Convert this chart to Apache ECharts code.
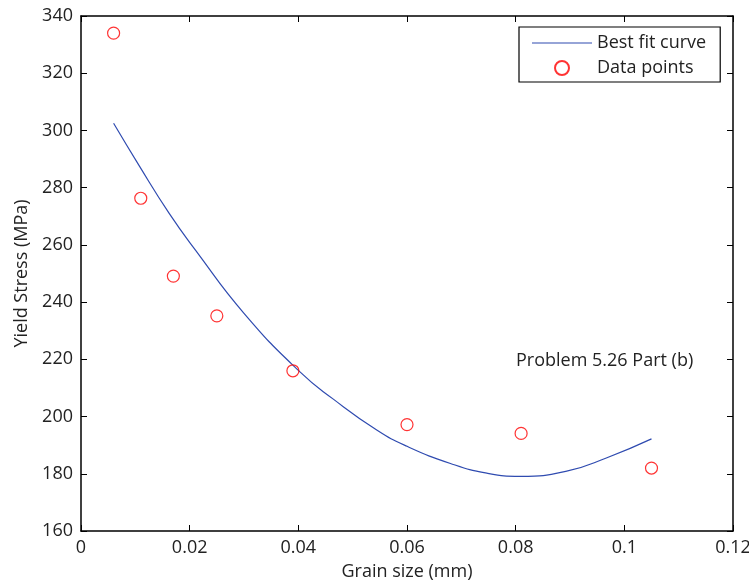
<!DOCTYPE html>
<html>
<head>
<meta charset="utf-8">
<script src="https://cdn.jsdelivr.net/npm/echarts@6/dist/echarts.min.js"></script>
<style>
html,body{margin:0;padding:0;background:#fff;}
#chart{width:749px;height:582px;}
</style>
</head>
<body>
<div id="chart"></div>
<script>
// Data
var grainSize = [0.006, 0.011, 0.017, 0.025, 0.039, 0.060, 0.081, 0.105];
var yieldStress = [334, 276.3, 249.1, 235.2, 216, 197.2, 194.1, 182];

var curveX = [0.006, 0.0107, 0.0162, 0.0211, 0.030, 0.0403, 0.0465, 0.0545, 0.060, 0.068, 0.0747, 0.0809, 0.0894, 0.0968, 0.105];
var curveY = [302.5, 287.7, 271.1, 258.1, 236.1, 215.6, 206, 195.2, 189.6, 183.6, 180.2, 179.1, 180.9, 185.6, 192.2];

var xTicks = { min: 0, max: 0.12, interval: 0.02 };
var yTicks = { min: 160, max: 340, interval: 20 };

var FONT = '"Open Sans", "DejaVu Sans", sans-serif';
var TEXT = '#222222';
var FS = 18;

var chart = echarts.init(document.getElementById('chart'), null, {renderer: 'canvas'});

function pairs(xs, ys) { return xs.map(function (x, i) { return [x, ys[i]]; }); }

function axisCommon(showLabel) {
  return {
    axisLine: { show: true, onZero: false, lineStyle: { color: '#000', width: 1.5 } },
    axisTick: { show: true, inside: true, length: 6, lineStyle: { color: '#000', width: 1 } },
    axisLabel: { show: showLabel, color: TEXT, fontFamily: FONT, fontSize: FS, margin: 8 },
    splitLine: { show: false }
  };
}

var xBottom = Object.assign({
  type: 'value', position: 'bottom', min: xTicks.min, max: xTicks.max, interval: xTicks.interval,
  name: 'Grain size (mm)', nameLocation: 'middle', nameGap: 32,
  nameTextStyle: { color: TEXT, fontFamily: FONT, fontSize: FS }
}, axisCommon(true));
var xTop = Object.assign({
  type: 'value', position: 'top', min: xTicks.min, max: xTicks.max, interval: xTicks.interval
}, axisCommon(false));
var yLeft = Object.assign({
  type: 'value', position: 'left', min: yTicks.min, max: yTicks.max, interval: yTicks.interval,
  name: 'Yield Stress (MPa)', nameLocation: 'middle', nameGap: 49,
  nameTextStyle: { color: TEXT, fontFamily: FONT, fontSize: FS }
}, axisCommon(true));
var yRight = Object.assign({
  type: 'value', position: 'right', min: yTicks.min, max: yTicks.max, interval: yTicks.interval
}, axisCommon(false));

var LINE_COLOR = '#2f4bb0';

chart.setOption({
  animation: false,
  backgroundColor: '#fff',
  grid: {
    left: 81, right: 16, top: 16, bottom: 51, containLabel: false, outerBoundsMode: 'none'
  },
  xAxis: [xBottom, xTop],
  yAxis: [yLeft, yRight],
  legend: {
    left: 519, top: 27, orient: 'vertical',
    backgroundColor: '#fff', borderColor: '#000', borderWidth: 1.2,
    padding: [7, 14, 5, 13],
    itemWidth: 60, itemHeight: 14, itemGap: 7,
    textStyle: { color: TEXT, fontFamily: FONT, fontSize: FS },
    data: [
      { name: 'Best fit curve', icon: 'path://M0,0 L60,0 L60,1.2 L0,1.2 Z' },
      { name: 'Data points' }
    ]
  },
  graphic: [{
    type: 'text', left: 516, top: 352,
    style: { text: 'Problem 5.26 Part (b)', fill: TEXT, font: FS + 'px ' + FONT }
  }],
  series: [
    {
      name: 'Best fit curve', type: 'line', xAxisIndex: 0, yAxisIndex: 0,
      data: pairs(curveX, curveY), smooth: 0.5, symbol: 'none',
      lineStyle: { color: LINE_COLOR, width: 1.2 }, itemStyle: { color: LINE_COLOR }, z: 3
    },
    {
      name: 'Data points', type: 'scatter', xAxisIndex: 1, yAxisIndex: 1,
      data: pairs(grainSize, yieldStress), symbol: 'circle', symbolSize: 12,
      itemStyle: { color: 'rgba(255,255,255,0)', borderColor: '#ff0000', borderWidth: 1.2 }, z: 4
    }
  ]
});
</script>
</body>
</html>
